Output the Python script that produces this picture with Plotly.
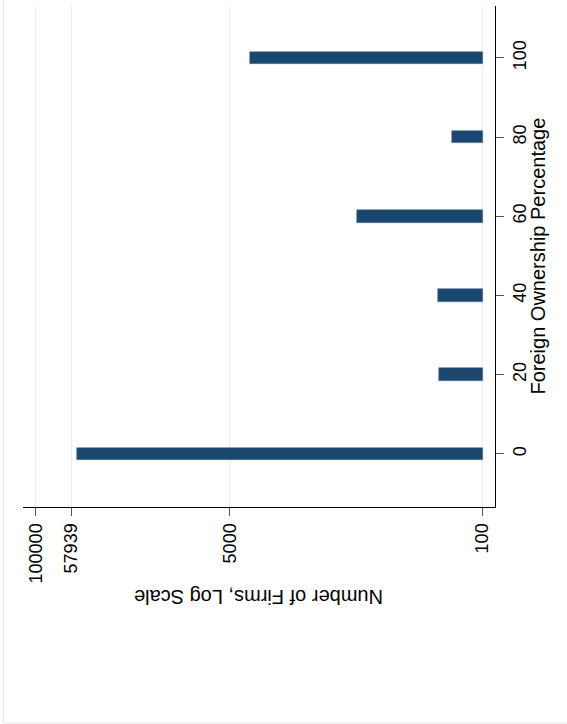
import plotly.graph_objects as go

# ---- data ----
ownership_pct = [0, 20, 40, 60, 80, 100]
num_firms = [53040, 195, 199, 695, 161, 3650]
x_tick_vals = [100000, 57939, 5000, 100]
x_tick_text = ["100000", "57939", "5000", "100"]
y_tick_vals = [0, 20, 40, 60, 80, 100]
y_tick_text = ["0", "20", "40", "60", "80", "100"]
bar_base = 100

W, H = 567, 724
L, R, T, B = 23, 495, 6, 507  # plot area in pixels

def px_x(p):
    return (p - L) / (R - L)

def px_y(p):
    return (B - p) / (B - T)

FONT = "Liberation Sans, Arial, sans-serif"

fig = go.Figure()
fig.add_trace(go.Bar(
    y=ownership_pct,
    x=[v - bar_base for v in num_firms],
    base=[bar_base] * len(num_firms),
    orientation="h",
    width=3.2,
    marker=dict(color="#1a476f", line=dict(color="#5a7a96", width=0.6)),
    showlegend=False,
))

fig.update_layout(
    width=W, height=H,
    margin=dict(l=L, r=W - R, t=T, b=H - B, autoexpand=False),
    paper_bgcolor="white",
    plot_bgcolor="white",
    font=dict(family=FONT, color="black"),
    bargap=0,
    xaxis=dict(
        type="log",
        range=[5.087, 1.917],
        tickvals=x_tick_vals,
        ticktext=x_tick_text,
        tickangle=-90,
        tickfont=dict(size=18, family=FONT, color="black"),
        ticks="outside", ticklen=8, tickcolor="#555555", tickwidth=1.2,
        showgrid=True, gridcolor="#e6eef0", gridwidth=1,
        showline=True, linecolor="black", linewidth=1.3,
        zeroline=False, automargin=False,
    ),
    yaxis=dict(
        side="right",
        range=[-13.4, 113.1],
        tickvals=y_tick_vals,
        ticktext=y_tick_text,
        tickangle=-90,
        tickfont=dict(size=18, family=FONT, color="black"),
        ticks="outside", ticklen=8, tickcolor="#555555", tickwidth=1.2,
        showgrid=False,
        showline=True, linecolor="black", linewidth=1.3,
        zeroline=False, automargin=False,
    ),
    shapes=[
        dict(type="rect", xref="paper", yref="paper",
             x0=px_x(3.5), x1=px_x(W + 20), y0=px_y(723), y1=px_y(-20),
             line=dict(color="#e2e6e8", width=1), fillcolor="rgba(0,0,0,0)",
             layer="below"),
    ],
    annotations=[
        dict(text="Number of Firms, Log Scale", xref="paper", yref="paper",
             x=px_x(259), y=px_y(597), showarrow=False, textangle=180,
             xanchor="center", yanchor="middle",
             font=dict(size=20, family=FONT, color="black")),
        dict(text="Foreign Ownership Percentage", xref="paper", yref="paper",
             x=px_x(537.5), y=px_y(256), showarrow=False, textangle=-90,
             xanchor="center", yanchor="middle",
             font=dict(size=20, family=FONT, color="black")),
    ],
)

fig.write_html(
    "out.html",
    config={"displayModeBar": False},
    post_script="document.body.style.margin='0';document.body.style.overflow='hidden';",
)
